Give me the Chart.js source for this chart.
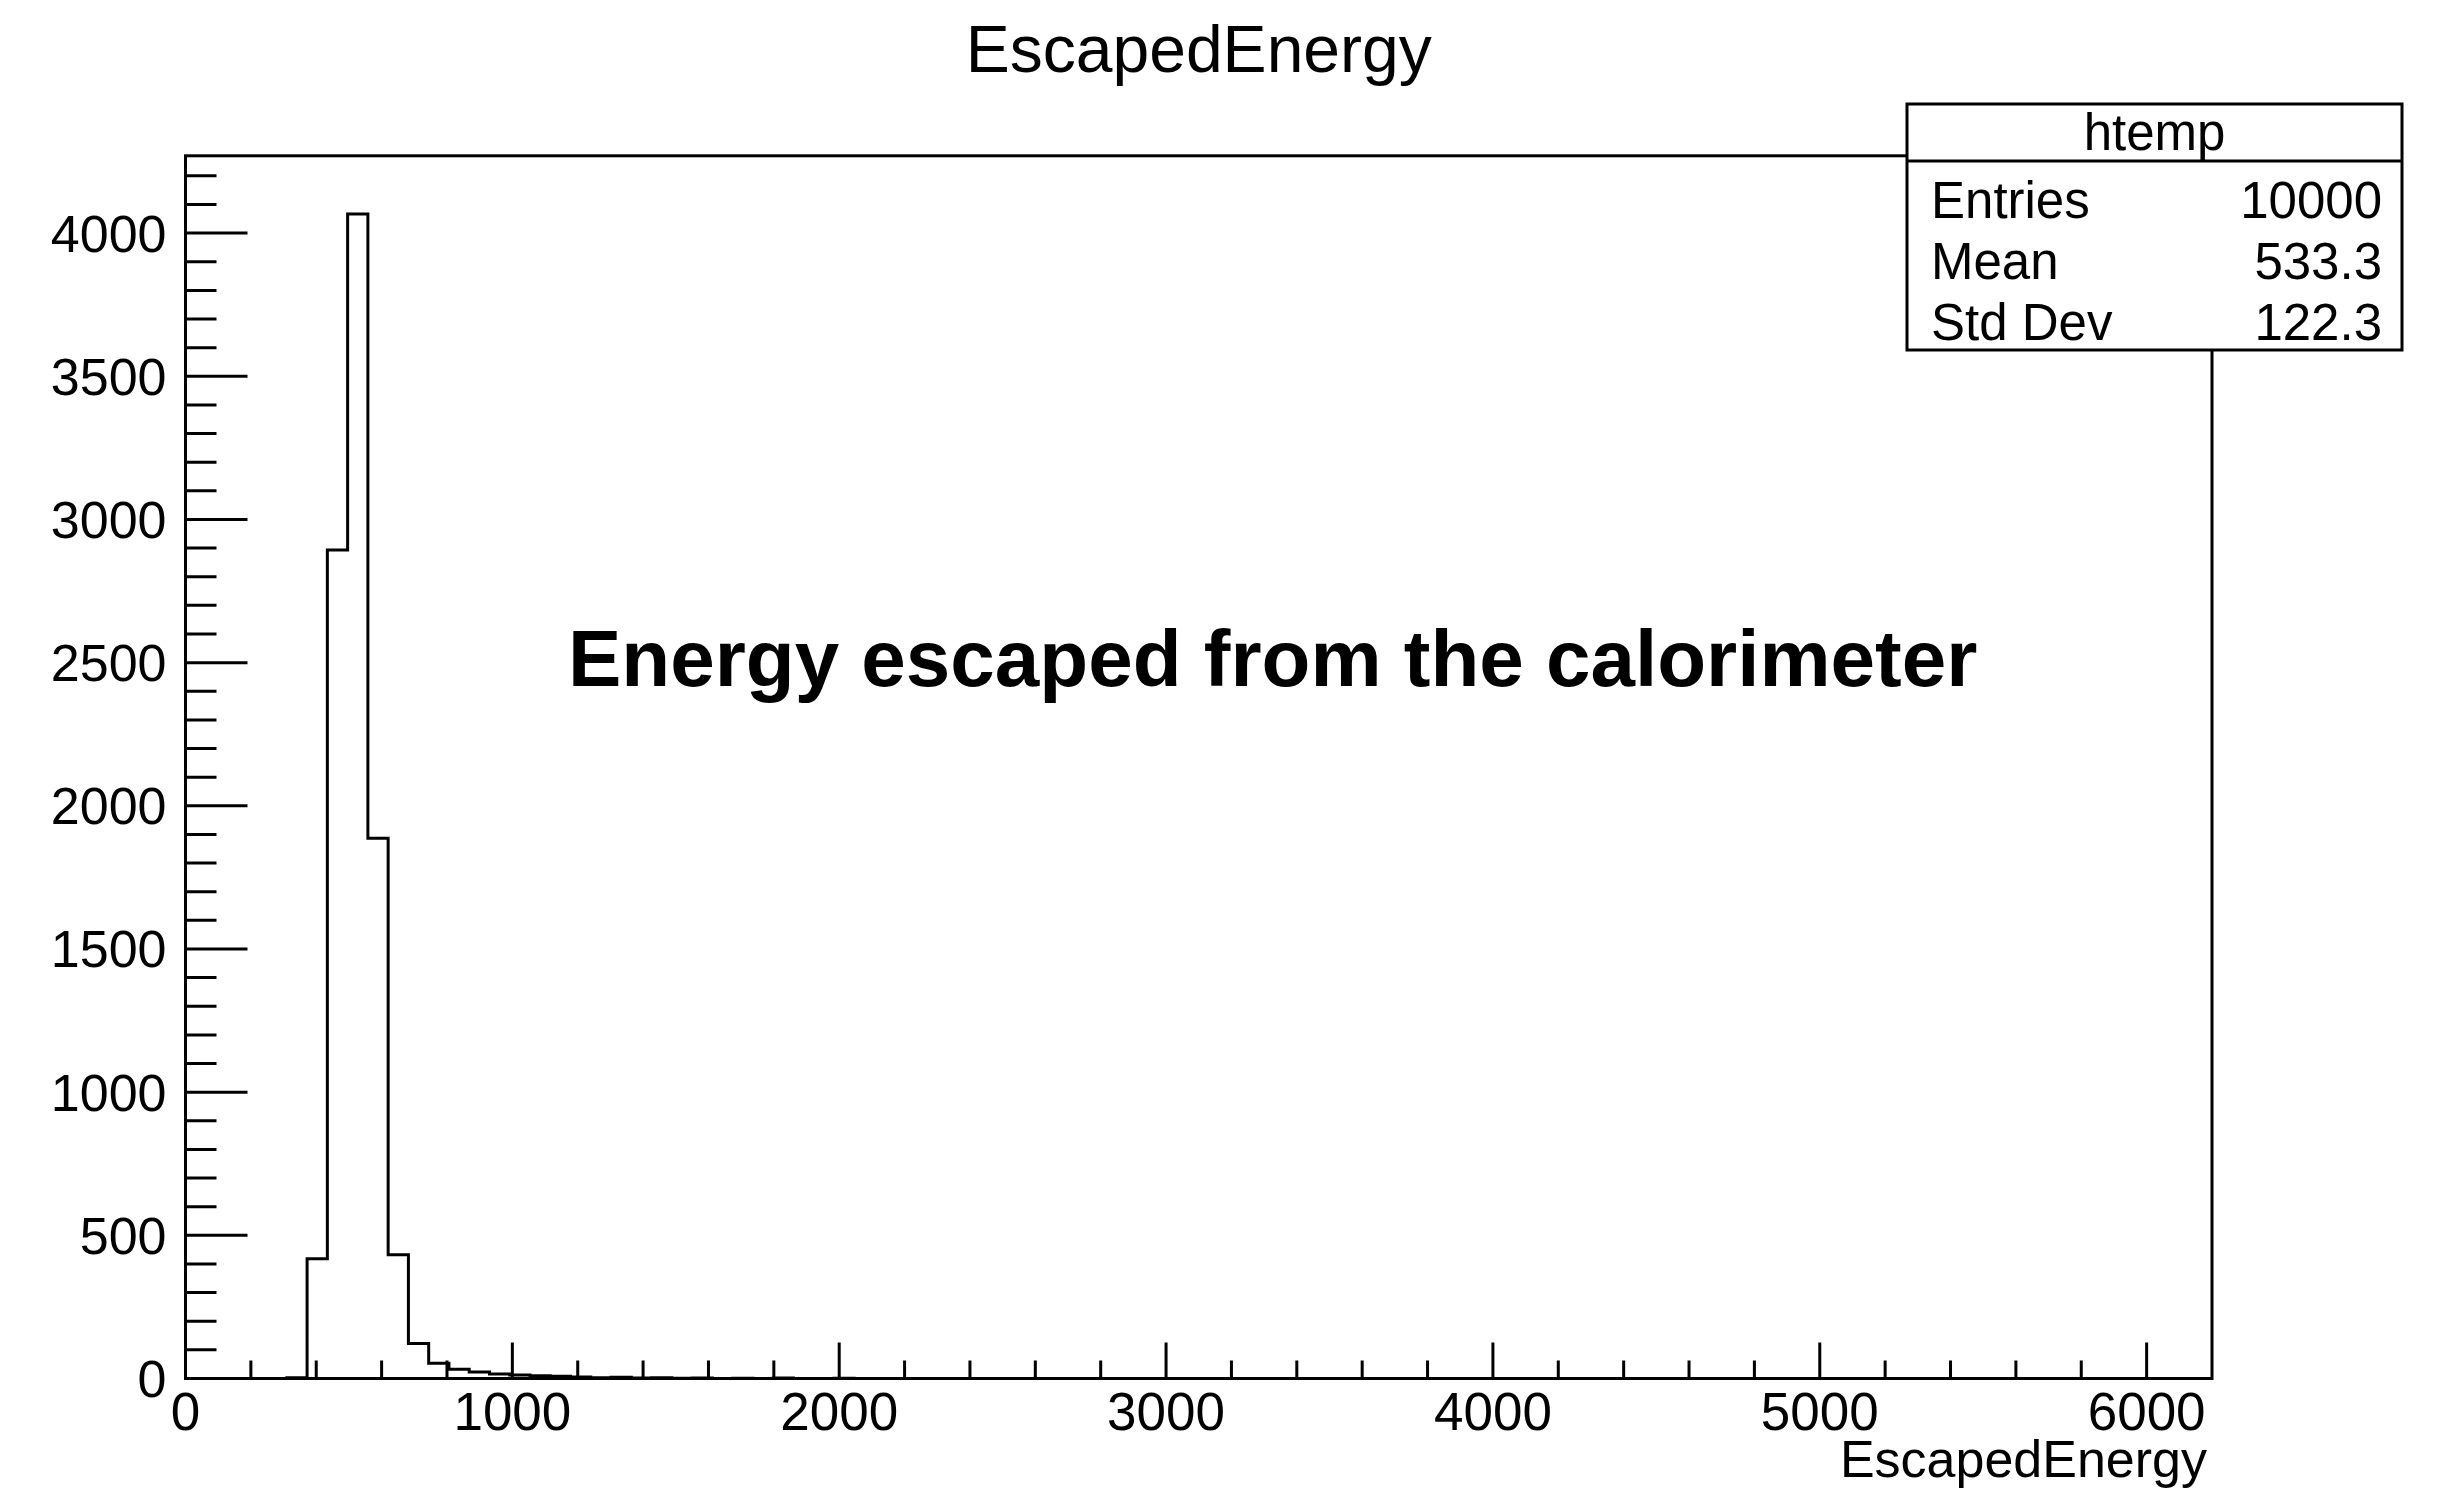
<!DOCTYPE html>
<html>
<head>
<meta charset="utf-8">
<script src="https://cdn.jsdelivr.net/npm/chart.js@4.4.1/dist/chart.umd.min.js"></script>
<style>
  html, body { margin: 0; padding: 0; background: #ffffff; }
  canvas { display: block; }
</style>
</head>
<body>
<canvas id="hist" width="2442" height="1490"></canvas>
<script>
// Histogram of escaped energy: 100 equal-width bins over [xRange[0], xRange[1]]
const histName = 'htemp';
const titleText = 'EscapedEnergy';
const xAxisTitle = 'EscapedEnergy';
const annotationText = 'Energy escaped from the calorimeter';
const annotationAt = [3326, 2420];   // data coordinates of the centred caption

const xRange = [0, 6200];
const yMax = 4270;

const binCounts = [
  0, 0, 0, 0, 0, 3, 418, 2893, 4067, 1887,
  432, 122, 53, 32, 23, 16, 12, 10, 8, 5,
  3, 4, 2, 3, 1, 2, 0, 1, 0, 2,
  0, 0, 1, 0, 0, 0, 0, 0, 0, 0,
  0, 0, 0, 0, 0, 0, 0, 0, 0, 0,
  0, 0, 0, 0, 0, 0, 0, 0, 0, 0,
  0, 0, 0, 0, 0, 0, 0, 0, 0, 0,
  0, 0, 0, 0, 0, 0, 0, 0, 0, 0,
  0, 0, 0, 0, 0, 0, 0, 0, 0, 0,
  0, 0, 0, 0, 0, 0, 0, 0, 0, 0
];

// Labelled axis values
const xTickValues = [0, 1000, 2000, 3000, 4000, 5000, 6000];
const xTickLabels = ['0', '1000', '2000', '3000', '4000', '5000', '6000'];
const yTickValues = [0, 500, 1000, 1500, 2000, 2500, 3000, 3500, 4000];
const yTickLabels = ['0', '500', '1000', '1500', '2000', '2500', '3000', '3500', '4000'];

// Axis divisions (major step, minor step)
const xDivisions = [1000, 200];
const yDivisions = [500, 100];

// Statistics box
const statLabels = ['Entries', 'Mean', 'Std Dev'];
const statValues = ['10000', '533.3', '122.3'];

const FONT = '"Liberation Sans", Arial, Helvetica, sans-serif';

// Step outline: one point per bin low edge, plus the upper edge of the last bin
const binWidth = (xRange[1] - xRange[0]) / binCounts.length;
const outline = binCounts.map((v, i) => ({ x: xRange[0] + i * binWidth, y: v }));
outline.push({ x: xRange[1], y: binCounts[binCounts.length - 1] });

// ROOT-style frame, inward ticks, axis labels, caption and statistics box
const frameAndStats = {
  id: 'frameAndStats',
  afterDatasetsDraw(chart) {
    const { ctx, chartArea: a, scales: { x, y } } = chart;
    ctx.save();
    ctx.strokeStyle = '#000';
    ctx.lineWidth = 3;
    ctx.lineCap = 'butt';

    // inward ticks along the x axis
    ctx.beginPath();
    for (let v = xRange[0]; v < xRange[1]; v += xDivisions[1]) {
      const px = x.getPixelForValue(v);
      const len = (v % xDivisions[0] === 0) ? 36 : 18;
      ctx.moveTo(px, a.bottom);
      ctx.lineTo(px, a.bottom - len);
    }
    // inward ticks along the y axis
    for (let v = 0; v < yMax; v += yDivisions[1]) {
      const py = y.getPixelForValue(v);
      const len = (v % yDivisions[0] === 0) ? 62 : 31;
      ctx.moveTo(a.left, py);
      ctx.lineTo(a.left + len, py);
    }
    ctx.stroke();

    // frame
    ctx.strokeRect(a.left, a.top, a.right - a.left, a.bottom - a.top);

    ctx.fillStyle = '#000';
    ctx.textBaseline = 'alphabetic';

    // tick labels
    ctx.font = '53px ' + FONT;
    ctx.textAlign = 'center';
    xTickValues.forEach((v, i) => {
      ctx.fillText(xTickLabels[i], x.getPixelForValue(v), a.bottom + 51.5);
    });
    ctx.font = '52px ' + FONT;
    ctx.textAlign = 'right';
    yTickValues.forEach((v, i) => {
      ctx.fillText(yTickLabels[i], a.left - 19, y.getPixelForValue(v) + 18.5);
    });

    // axis title
    ctx.font = '52px ' + FONT;
    ctx.textAlign = 'right';
    ctx.fillText(xAxisTitle, a.right - 5, a.bottom + 98);

    // caption
    ctx.font = 'bold 80px ' + FONT;
    ctx.textAlign = 'center';
    ctx.fillText(annotationText, x.getPixelForValue(annotationAt[0]), y.getPixelForValue(annotationAt[1]));
    ctx.restore();
  },
  afterDraw(chart) {
    const { ctx } = chart;
    const box = { left: 1907, top: 104, right: 2402, bottom: 350, divider: 161 };
    ctx.save();
    ctx.fillStyle = '#fff';
    ctx.fillRect(box.left, box.top, box.right - box.left, box.bottom - box.top);
    ctx.strokeStyle = '#000';
    ctx.lineWidth = 3;
    ctx.strokeRect(box.left, box.top, box.right - box.left, box.bottom - box.top);
    ctx.beginPath();
    ctx.moveTo(box.left, box.divider);
    ctx.lineTo(box.right, box.divider);
    ctx.stroke();

    ctx.fillStyle = '#000';
    ctx.font = '51px ' + FONT;
    ctx.textBaseline = 'alphabetic';
    ctx.textAlign = 'center';
    ctx.fillText(histName, (box.left + box.right) / 2, 150);
    const baselines = [218, 279, 340];
    statLabels.forEach((s, i) => {
      ctx.textAlign = 'left';
      ctx.fillText(s, box.left + 24, baselines[i]);
      ctx.textAlign = 'right';
      ctx.fillText(statValues[i], box.right - 20, baselines[i]);
    });
    ctx.restore();
  }
};

Chart.defaults.color = '#000';
Chart.defaults.font.family = FONT;

new Chart(document.getElementById('hist'), {
  type: 'line',
  data: {
    datasets: [{
      label: histName,
      data: outline,
      stepped: 'before',
      borderColor: '#000',
      borderWidth: 3,
      pointRadius: 0,
      fill: false,
      tension: 0
    }]
  },
  options: {
    responsive: false,
    devicePixelRatio: 1,
    animation: false,
    events: [],
    layout: { padding: { left: 185.5, right: 230, top: 0, bottom: 111.5 } },
    plugins: {
      legend: { display: false },
      tooltip: { enabled: false },
      title: {
        display: true,
        text: titleText,
        color: '#000',
        font: { family: FONT, size: 66, weight: 'normal' },
        padding: { top: 14, bottom: 62.6 }
      }
    },
    scales: {
      x: {
        type: 'linear',
        display: false,
        min: xRange[0],
        max: xRange[1]
      },
      y: {
        type: 'linear',
        display: false,
        min: 0,
        max: yMax
      }
    }
  },
  plugins: [frameAndStats]
});
</script>
</body>
</html>
